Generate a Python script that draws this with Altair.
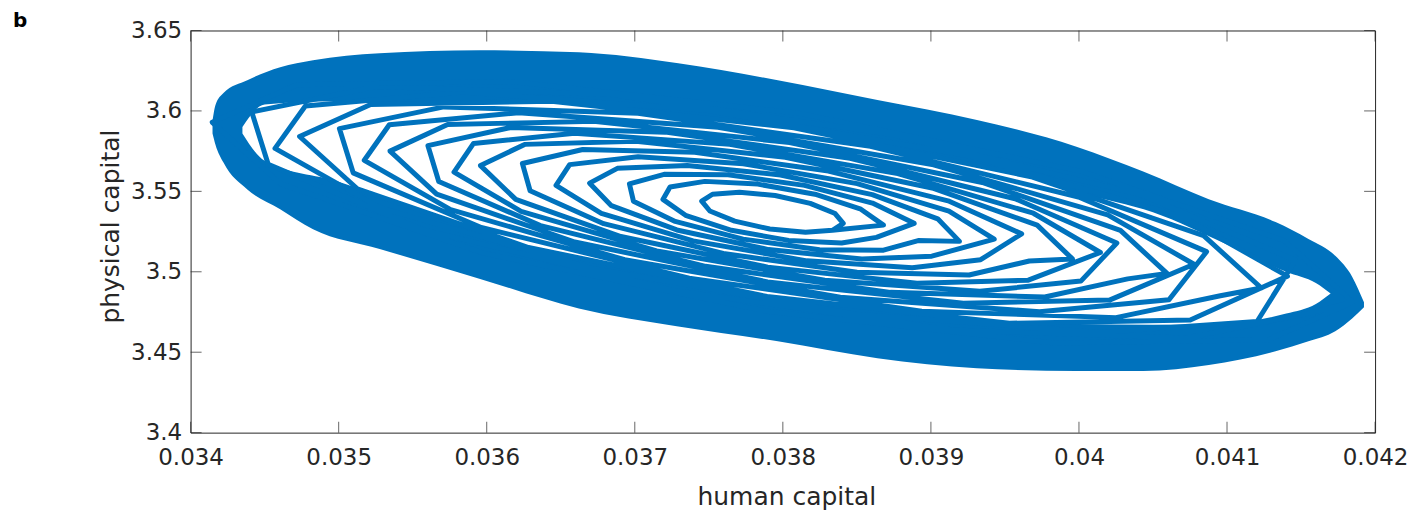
import altair as alt
import pandas as pd

# ---- trajectory (human capital, physical capital) ----
human = [
    0.038335,
    0.038408, 0.038353, 0.038185, 0.037948, 0.037707, 0.037525, 0.037452, 0.037507, 0.037675, 0.037912, 0.038153, 0.038335,
    0.03868, 0.038527, 0.038217, 0.037831, 0.037473, 0.037238, 0.03719, 0.037343, 0.037653, 0.038039, 0.038397, 0.038632,
    0.038887, 0.038605, 0.038146, 0.03763, 0.037198, 0.036964, 0.036991, 0.037273, 0.037732, 0.038248, 0.03868, 0.038914,
    0.039193, 0.039046, 0.038604, 0.037984, 0.037354, 0.036882, 0.036695, 0.036842, 0.037284, 0.037904, 0.038534, 0.039006,
    0.039428, 0.039122, 0.038502, 0.037733, 0.037022, 0.03656, 0.036468, 0.036774, 0.037394, 0.038163, 0.038874, 0.039336,
    0.039613, 0.039116, 0.038308, 0.037405, 0.036648, 0.036241, 0.036293, 0.03679, 0.037598, 0.038501, 0.039258, 0.039665,
    0.039956, 0.039718, 0.039008, 0.038016, 0.037008, 0.036256, 0.035958, 0.036196, 0.036906, 0.037898, 0.038906, 0.039658,
    0.040145, 0.039692, 0.038776, 0.037641, 0.036593, 0.035911, 0.035779, 0.036232, 0.037148, 0.038283, 0.039331, 0.040013,
    0.040256, 0.039569, 0.038454, 0.037206, 0.036163, 0.035603, 0.035676, 0.036363, 0.037478, 0.038726, 0.039769, 0.040329,
    0.040595, 0.04028, 0.039347, 0.038045, 0.036723, 0.035736, 0.035347, 0.035662, 0.036595, 0.037897, 0.039219, 0.040206,
    0.040777, 0.040194, 0.039018, 0.037562, 0.036216, 0.035342, 0.035173, 0.035756, 0.036932, 0.038388, 0.039734, 0.040608,
    0.040862, 0.039997, 0.038592, 0.037022, 0.03571, 0.035005, 0.035098, 0.035963, 0.037368, 0.038938, 0.04025, 0.040955,
    0.041232, 0.040842, 0.039686, 0.038074, 0.036438, 0.035216, 0.034736, 0.035126, 0.036282, 0.037894, 0.03953, 0.040752,
    0.041408, 0.040696, 0.039259, 0.037482, 0.035841, 0.034775, 0.03457, 0.035282, 0.036719, 0.038496, 0.040137, 0.041203,
    0.041462, 0.040419, 0.038728, 0.036839, 0.03526, 0.034413, 0.034524, 0.035567, 0.037258, 0.039147, 0.040726, 0.041573,
    0.04185, 0.041387, 0.040016, 0.038104, 0.036164, 0.034715, 0.034146, 0.034609, 0.03598, 0.037892, 0.039832, 0.041281,
    0.04185,
]
physical = [
    3.5258,
    3.5301, 3.5362, 3.5425, 3.5474, 3.5494, 3.5482, 3.5439, 3.5378, 3.5315, 3.5266, 3.5246, 3.5258,
    3.5290, 3.5389, 3.5482, 3.5545, 3.5562, 3.5527, 3.5450, 3.5351, 3.5258, 3.5195, 3.5179, 3.5214,
    3.5301, 3.5427, 3.5537, 3.5603, 3.5606, 3.5546, 3.5439, 3.5313, 3.5203, 3.5137, 3.5134, 3.5194,
    3.5189, 3.5329, 3.5480, 3.5602, 3.5661, 3.5643, 3.5551, 3.5411, 3.5260, 3.5138, 3.5079, 3.5097,
    3.5203, 3.5377, 3.5548, 3.5672, 3.5715, 3.5666, 3.5537, 3.5363, 3.5192, 3.5068, 3.5025, 3.5075,
    3.5236, 3.5441, 3.5626, 3.5743, 3.5760, 3.5673, 3.5504, 3.5299, 3.5114, 3.4997, 3.4980, 3.5067,
    3.5080, 3.5290, 3.5521, 3.5712, 3.5811, 3.5792, 3.5660, 3.5450, 3.5219, 3.5029, 3.4929, 3.4948,
    3.5120, 3.5364, 3.5610, 3.5792, 3.5861, 3.5798, 3.5620, 3.5376, 3.5130, 3.4948, 3.4879, 3.4942,
    3.5179, 3.5454, 3.5706, 3.5868, 3.5897, 3.5784, 3.5561, 3.5287, 3.5034, 3.4872, 3.4843, 3.4956,
    3.4990, 3.5257, 3.5555, 3.5803, 3.5935, 3.5916, 3.5750, 3.5483, 3.5185, 3.4937, 3.4805, 3.4824,
    3.5047, 3.5354, 3.5665, 3.5898, 3.5989, 3.5914, 3.5693, 3.5386, 3.5075, 3.4842, 3.4751, 3.4826,
    3.5125, 3.5465, 3.5780, 3.5985, 3.6025, 3.5890, 3.5615, 3.5275, 3.4960, 3.4755, 3.4715, 3.4851,
    3.4899, 3.5225, 3.5589, 3.5895, 3.6060, 3.6040, 3.5841, 3.5516, 3.5151, 3.4846, 3.4680, 3.4700,
    3.4973, 3.5343, 3.5720, 3.6004, 3.6117, 3.6031, 3.5767, 3.5397, 3.5020, 3.4736, 3.4623, 3.4691,
    3.5072, 3.5478, 3.5855, 3.6102, 3.6152, 3.5994, 3.5668, 3.5262, 3.4885, 3.4638, 3.4588, 3.4746,
    3.4812, 3.5194, 3.5624, 3.5986, 3.6183, 3.6162, 3.5929, 3.5546, 3.5116, 3.4754, 3.4557, 3.4578,
    3.4812,
]

# ---- envelope of the dense outer band (where the curve overlaps into solid colour) ----
outer_x = [0.034148, 0.034168, 0.034222, 0.034383, 0.034605, 0.034827, 0.035277, 0.035950, 0.036622,
           0.037294, 0.037966, 0.038639, 0.039311, 0.039983, 0.040434, 0.040877, 0.041328, 0.041550,
           0.041731, 0.041845, 0.041925]
outer_top = [3.5940, 3.6037, 3.6111, 3.6191, 3.6272, 3.6315, 3.6358, 3.6377, 3.6364,
             3.6296, 3.6191, 3.6068, 3.5944, 3.5778, 3.5623, 3.5451, 3.5309, 3.5204,
             3.5099, 3.4969, 3.4810]
outer_bottom = [3.5860, 3.5790, 3.5679, 3.5512, 3.5389, 3.5265, 3.5142, 3.4957, 3.4772,
                3.4660, 3.4568, 3.4463, 3.4401, 3.4383, 3.4383, 3.4420, 3.4506, 3.4568,
                3.4630, 3.4710, 3.4780]

# ---- inner edge of that solid band ----
inner_x = [0.03435, 0.0345, 0.0350, 0.0355, 0.0360, 0.0365, 0.0370, 0.0375, 0.0380, 0.0385,
           0.0390, 0.0395, 0.0400, 0.0405, 0.0410, 0.0414, 0.0416, 0.0417]
inner_top = [3.5900, 3.6040, 3.6060, 3.6045, 3.6052, 3.6054, 3.6003, 3.5953, 3.5902, 3.5814,
             3.5719, 3.5624, 3.5490, 3.5370, 3.5170, 3.5000, 3.4930, 3.4865]
inner_bottom = [3.5860, 3.5690, 3.5560, 3.5398, 3.5240, 3.5110, 3.5015, 3.4921, 3.4835, 3.4785,
                3.4734, 3.4683, 3.4675, 3.4670, 3.4680, 3.4740, 3.4800, 3.4865]

x_ticks = [0.034, 0.035, 0.036, 0.037, 0.038, 0.039, 0.040, 0.041, 0.042]
y_ticks = [3.4, 3.45, 3.5, 3.55, 3.6, 3.65]
panel_label = ["b"]

BLUE = "#0072BD"
DARK = "#262626"
FONT = "DejaVu Sans"
W, H = 1187, 403

spiral_df = pd.DataFrame({"h": human, "p": physical, "i": list(range(len(human)))})
outer_df = pd.DataFrame({"h": outer_x, "top": outer_top, "bottom": outer_bottom})
inner_df = pd.DataFrame({"h": inner_x, "top": inner_top, "bottom": inner_bottom})
xt_df = pd.DataFrame({"v": x_ticks})
yt_df = pd.DataFrame({"v": y_ticks})
lab_df = pd.DataFrame({"t": panel_label})

xs = alt.Scale(domain=[0.034, 0.042], zero=False, nice=False)
ys = alt.Scale(domain=[3.4, 3.65], zero=False, nice=False)

x_axis = alt.Axis(
    values=x_ticks, format="~g", tickSize=0, domain=False, grid=False,
    labelFont=FONT, labelFontSize=23, labelColor=DARK, labelPadding=14,
    labelFlush=False, labelOverlap=False,
    title="human capital", titleFont=FONT, titleFontSize=25, titleFontWeight="normal",
    titleColor=DARK, titleX=597, titleY=72, titleBaseline="alphabetic", titleAlign="center",
)
y_axis = alt.Axis(
    values=y_ticks, format="~g", tickSize=0, domain=False, grid=False,
    labelFont=FONT, labelFontSize=23, labelColor=DARK, labelPadding=9,
    labelFlush=False, labelOverlap=False,
    title="physical capital", titleFont=FONT, titleFontSize=25, titleFontWeight="normal",
    titleColor=DARK, titleX=-72, titleY=196, titleAngle=270,
    titleBaseline="alphabetic", titleAlign="center",
)


def X(field):
    return alt.X(field, scale=xs, axis=x_axis)


def Y(field):
    return alt.Y(field, scale=ys, axis=y_axis)


outer = alt.Chart(outer_df).mark_area(color=BLUE, opacity=1, interpolate="monotone").encode(
    x=X("h:Q"), y=Y("top:Q"), y2="bottom:Q",
)
inner = alt.Chart(inner_df).mark_area(color="white", opacity=1, interpolate="monotone").encode(
    x=X("h:Q"), y=Y("top:Q"), y2="bottom:Q",
)
spiral = alt.Chart(spiral_df).mark_line(color=BLUE, strokeWidth=5, strokeJoin="round").encode(
    x=X("h:Q"), y=Y("p:Q"), order="i:Q",
)

tick_len = 11
bottom_ticks = alt.Chart(xt_df).mark_tick(color=DARK, size=tick_len, thickness=1).encode(
    x=X("v:Q"), y=alt.value(H - tick_len / 2))
top_ticks = alt.Chart(xt_df).mark_tick(color=DARK, size=tick_len, thickness=1).encode(
    x=X("v:Q"), y=alt.value(tick_len / 2))
left_ticks = alt.Chart(yt_df).mark_tick(color=DARK, size=tick_len, thickness=1).encode(
    y=Y("v:Q"), x=alt.value(tick_len / 2))
right_ticks = alt.Chart(yt_df).mark_tick(color=DARK, size=tick_len, thickness=1).encode(
    y=Y("v:Q"), x=alt.value(W - tick_len / 2))

label = alt.Chart(lab_df).mark_text(
    align="left", baseline="alphabetic", font=FONT, fontSize=20, fontWeight="bold", color="black"
).encode(text="t:N", x=alt.value(-178), y=alt.value(-3))

chart = alt.layer(
    outer, inner, spiral, bottom_ticks, top_ticks, left_ticks, right_ticks, label
).properties(
    width=W, height=H,
    autosize=alt.AutoSizeParams(type="none"),
    padding={"left": 183, "top": 22, "right": 35, "bottom": 80},
).configure_view(stroke=DARK, strokeWidth=1)

chart.save("out.html", embed_options={"renderer": "svg", "actions": False})
